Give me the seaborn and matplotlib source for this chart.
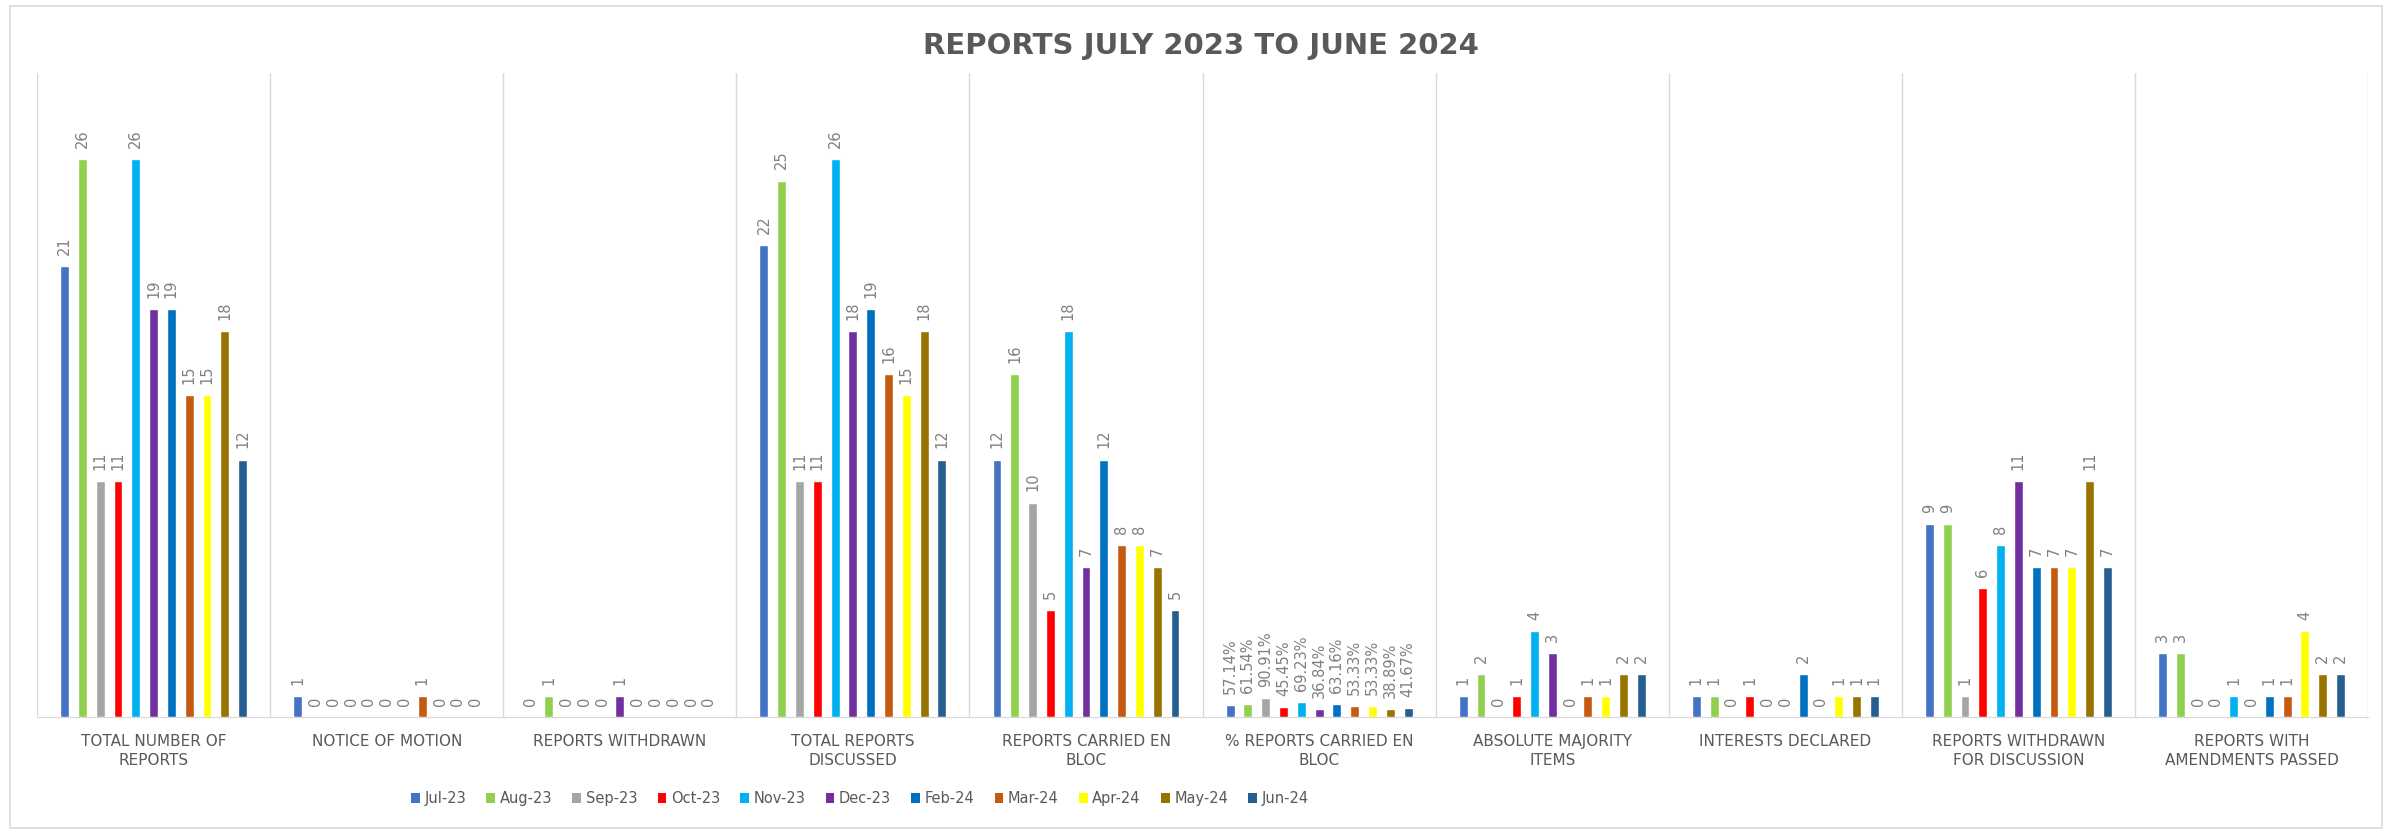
import pandas as pd
import matplotlib
matplotlib.use('Agg')
import matplotlib.pyplot as plt
import seaborn as sns
from matplotlib.patches import Patch, Rectangle

# meses e cores (sem Jan-24 no original)
months = ['Jul-23', 'Aug-23', 'Sep-23', 'Oct-23', 'Nov-23', 'Dec-23',
          'Feb-24', 'Mar-24', 'Apr-24', 'May-24', 'Jun-24']
colors = ['#4472C4', '#92D050', '#A5A5A5', '#FF0000', '#00B0F0', '#7030A0',
          '#0070C0', '#C55A11', '#FFFF00', '#997300', '#255E91']

categories = ['TOTAL NUMBER OF\nREPORTS', 'NOTICE OF MOTION', 'REPORTS WITHDRAWN',
              'TOTAL REPORTS\nDISCUSSED', 'REPORTS CARRIED EN\nBLOC',
              '% REPORTS CARRIED EN\nBLOC', 'ABSOLUTE MAJORITY\nITEMS',
              'INTERESTS DECLARED', 'REPORTS WITHDRAWN\nFOR DISCUSSION',
              'REPORTS WITH\nAMENDMENTS PASSED']

total_reports = [21, 26, 11, 11, 26, 19, 19, 15, 15, 18, 12]
notice_of_motion = [1, 0, 0, 0, 0, 0, 0, 1, 0, 0, 0]
reports_withdrawn = [0, 1, 0, 0, 0, 1, 0, 0, 0, 0, 0]
total_discussed = [22, 25, 11, 11, 26, 18, 19, 16, 15, 18, 12]
carried_en_bloc = [12, 16, 10, 5, 18, 7, 12, 8, 8, 7, 5]
pct_en_bloc = [0.5714, 0.6154, 0.9091, 0.4545, 0.6923, 0.3684,
               0.6316, 0.5333, 0.5333, 0.3889, 0.4167]
absolute_majority = [1, 2, 0, 1, 4, 3, 0, 1, 1, 2, 2]
interests_declared = [1, 1, 0, 1, 0, 0, 2, 0, 1, 1, 1]
withdrawn_for_discussion = [9, 9, 1, 6, 8, 11, 7, 7, 7, 11, 7]
amendments_passed = [3, 3, 0, 0, 1, 0, 1, 1, 4, 2, 2]

series = [total_reports, notice_of_motion, reports_withdrawn, total_discussed,
          carried_en_bloc, pct_en_bloc, absolute_majority, interests_declared,
          withdrawn_for_discussion, amendments_passed]
pct_idx = 5

rows = []
for cat, vals in zip(categories, series):
    for m, v in zip(months, vals):
        rows.append({'category': cat, 'month': m, 'value': v})
df = pd.DataFrame(rows)

sns.set_style('white')
plt.rcParams['font.family'] = ['DejaVu Sans']

fig = plt.figure(figsize=(23.92, 8.32), dpi=100)
ax = fig.add_axes([0.0155, 0.138, 0.9745, 0.774])

sns.barplot(data=df, x='category', y='value', hue='month', hue_order=months,
            order=categories, palette=colors, width=0.84, gap=0.5,
            ax=ax, legend=False, saturation=1)

# rótulos de dados
for i, cont in enumerate(ax.containers):
    labels = []
    for j, vals in enumerate(series):
        v = vals[i]
        labels.append(f'{v * 100:.2f}%' if j == pct_idx else f'{v:g}')
    ax.bar_label(cont, labels=labels, rotation=90, padding=8,
                 fontsize=10.5, color='#808080')

ax.set_ylim(0, 30)
ax.set_xlim(-0.5, len(categories) - 0.5)
ax.set_yticks([])
ax.set_xlabel('')
ax.set_ylabel('')
ax.tick_params(axis='x', length=0, pad=12, labelsize=11, labelcolor='#595959')
for lbl in ax.get_xticklabels():
    lbl.set_linespacing(1.35)
for sp in ['top', 'right', 'left']:
    ax.spines[sp].set_visible(False)
ax.spines['bottom'].set_color('#D9D9D9')

# separadores verticais entre categorias
for k in range(len(categories) + 1):
    ax.axvline(k - 0.5, color='#D9D9D9', lw=1, zorder=0)

handles = [Patch(facecolor=c, edgecolor='none') for c in colors]
ax.legend(handles, months, loc='center', bbox_to_anchor=(0.353, -0.126),
          ncol=11, frameon=False, fontsize=10.5, handlelength=0.6,
          handleheight=0.7, handletextpad=0.3, columnspacing=1.4,
          labelcolor='#595959')

fig.text(0.502, 0.945, 'REPORTS JULY 2023 TO JUNE 2024', ha='center', va='center',
         fontsize=21, fontweight='bold', color='#595959')

fig.add_artist(Rectangle((0.004, 0.005), 0.992, 0.988, transform=fig.transFigure,
                         fill=False, edgecolor='#D9D9D9', lw=1.2))

fig.savefig('out.png', dpi=100, facecolor='white')
